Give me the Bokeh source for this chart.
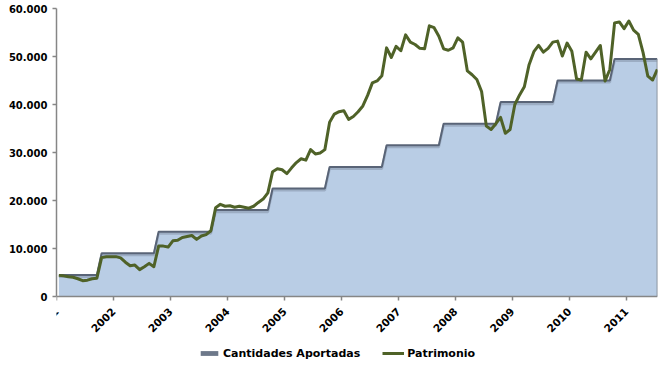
import numpy as np
from bokeh.plotting import figure
from bokeh.models import FixedTicker, Legend, LegendItem, ColumnDataSource, Range1d
from bokeh.embed import file_html
from bokeh.resources import INLINE

# ---- data (monthly, Jan 2001 .. Jul 2011) ----
years = [2001, 2002, 2003, 2004, 2005, 2006, 2007, 2008, 2009, 2010, 2011]

patrimonio = [
    4400, 4300, 4100, 4000, 3700, 3300, 3400, 3700, 3800, 8100, 8300, 8300,          # 2001
    8300, 8050, 7150, 6400, 6550, 5600, 6200, 6900, 6200, 10500, 10500, 10300,       # 2002
    11600, 11700, 12300, 12500, 12700, 11900, 12600, 12900, 13700, 18500, 19200, 18800,  # 2003
    18900, 18600, 18800, 18600, 18400, 18800, 19600, 20300, 21600, 26000, 26600, 26400,  # 2004
    25600, 26800, 27900, 28700, 28400, 30600, 29700, 29900, 30600, 36300, 38000, 38500,  # 2005
    38700, 36900, 37500, 38500, 39700, 41900, 44500, 44900, 46000, 51800, 49800, 52100,  # 2006
    51200, 54500, 53000, 52500, 51700, 51600, 56400, 56000, 54200, 51600, 51300, 51800,  # 2007
    53900, 53000, 47000, 46200, 45200, 42700, 35500, 34800, 36000, 37300, 34000, 34800,  # 2008
    40000, 42000, 43700, 48300, 51000, 52300, 50900, 51700, 53000, 53200, 50100, 52800,  # 2009
    51100, 45300, 45100, 50900, 49500, 50900, 52300, 44900, 47300, 57000, 57200, 55800,  # 2010
    57400, 55500, 54600, 50800, 45900, 45100, 47300,                                     # 2011
]

aportadas = [
    4500, 4500, 4500, 4500, 4500, 4500, 4500, 4500, 4500, 9000, 9000, 9000,          # 2001
    9000, 9000, 9000, 9000, 9000, 9000, 9000, 9000, 9000, 13500, 13500, 13500,       # 2002
    13500, 13500, 13500, 13500, 13500, 13500, 13500, 13500, 13500, 18000, 18000, 18000,  # 2003
    18000, 18000, 18000, 18000, 18000, 18000, 18000, 18000, 18000, 22500, 22500, 22500,  # 2004
    22500, 22500, 22500, 22500, 22500, 22500, 22500, 22500, 22500, 27000, 27000, 27000,  # 2005
    27000, 27000, 27000, 27000, 27000, 27000, 27000, 27000, 27000, 31500, 31500, 31500,  # 2006
    31500, 31500, 31500, 31500, 31500, 31500, 31500, 31500, 31500, 36000, 36000, 36000,  # 2007
    36000, 36000, 36000, 36000, 36000, 36000, 36000, 36000, 36000, 40500, 40500, 40500,  # 2008
    40500, 40500, 40500, 40500, 40500, 40500, 40500, 40500, 40500, 45000, 45000, 45000,  # 2009
    45000, 45000, 45000, 45000, 45000, 45000, 45000, 45000, 45000, 49500, 49500, 49500,  # 2010
    49500, 49500, 49500, 49500, 49500, 49500, 49500,                                     # 2011
]

y_ticks = [0, 10000, 20000, 30000, 40000, 50000, 60000]
y_tick_labels = ["0", "10.000", "20.000", "30.000", "40.000", "50.000", "60.000"]

series_names = ["Cantidades Aportadas", "Patrimonio"]

# ---- positions: mid-month in decimal years ----
n = len(patrimonio)
x = years[0] + (np.arange(n) + 0.5) / 12.0

FRAME_W = 601
PLOT_H = 288          # pixels between 0 and 60.000
EXTRA_H = 66          # room below the zero line for tick labels and legend
px_units = (y_ticks[-1] - y_ticks[0]) / PLOT_H
y_min = y_ticks[0] - EXTRA_H * px_units
shadow = np.array(aportadas) - 1.8 * px_units

src = ColumnDataSource(dict(x=x, patr=patrimonio, aport=aportadas, shadow=shadow))

p = figure(frame_width=FRAME_W, frame_height=PLOT_H + EXTRA_H,
           output_backend="svg", toolbar_location=None,
           x_range=Range1d(years[0], x[-1] + 0.003),
           y_range=Range1d(y_min, y_ticks[-1]),
           min_border_left=56, min_border_right=2, min_border_top=8,
           min_border_bottom=0)
p.outline_line_color = None
p.background_fill_color = "white"
p.border_fill_color = "white"
p.xgrid.visible = False
p.ygrid.visible = False

# area of contributions
p.varea(x="x", y1=0, y2="aport", source=src, fill_color="#B9CDE5")
p.line(x="x", y="shadow", source=src, line_color="#8593a8", line_width=2.5, line_alpha=0.55)
p.line(x="x", y="aport", source=src, line_color="#596477", line_width=2)
p.segment(x0=[x[-1]], y0=[0], x1=[x[-1]], y1=[aportadas[-1]],
          line_color="#8a929c", line_width=1.5)

# patrimonio line
pl = p.line(x="x", y="patr", source=src, line_color="#4F6228", line_width=3,
            line_join="round")

# renderer (not drawn in the frame) that supplies the legend swatch of the area
sw = p.rect(x=[np.nan], y=[np.nan], width=1, height=1,
            fill_color="#6d788a", line_color=None)

# axes
for ax in (p.xaxis[0], p.yaxis[0]):
    ax.axis_line_color = "#868686"
    ax.axis_line_width = 1.5
    ax.major_tick_line_color = "#868686"
    ax.major_tick_line_width = 1.5
    ax.major_tick_out = 4
    ax.major_tick_in = 0
    ax.minor_tick_line_color = None
    ax.major_label_text_font = "DejaVu Sans"
    ax.major_label_text_font_style = "bold"
    ax.major_label_text_color = "#000000"

p.yaxis.major_label_text_font_size = "10px"
p.xaxis.major_label_text_font_size = "10.5px"

p.yaxis.ticker = FixedTicker(ticks=y_ticks)
p.yaxis.major_label_overrides = {t: l for t, l in zip(y_ticks, y_tick_labels)}
p.yaxis.major_label_standoff = 5
p.yaxis.bounds = (y_ticks[0], y_ticks[-1])

p.xaxis.ticker = FixedTicker(ticks=years)
p.xaxis.major_label_overrides = {y: str(y) for y in years}
p.xaxis.major_label_orientation = np.pi / 4
p.xaxis.major_label_standoff = 9
p.xaxis.fixed_location = y_ticks[0]

legend = Legend(items=[LegendItem(label=series_names[0], renderers=[sw]),
                       LegendItem(label=series_names[1], renderers=[pl])],
                orientation="horizontal", location=(142, 2))
legend.label_text_font = "DejaVu Sans"
legend.label_text_font_style = "bold"
legend.label_text_font_size = "11px"
legend.label_text_color = "#000000"
legend.glyph_width = 22
legend.glyph_height = 6
legend.label_height = 14
legend.label_standoff = 3
legend.spacing = 22
legend.padding = 0
legend.margin = 0
legend.border_line_color = None
legend.background_fill_alpha = 0
p.add_layout(legend, "center")

open("out.html", "w").write(file_html(p, INLINE))
